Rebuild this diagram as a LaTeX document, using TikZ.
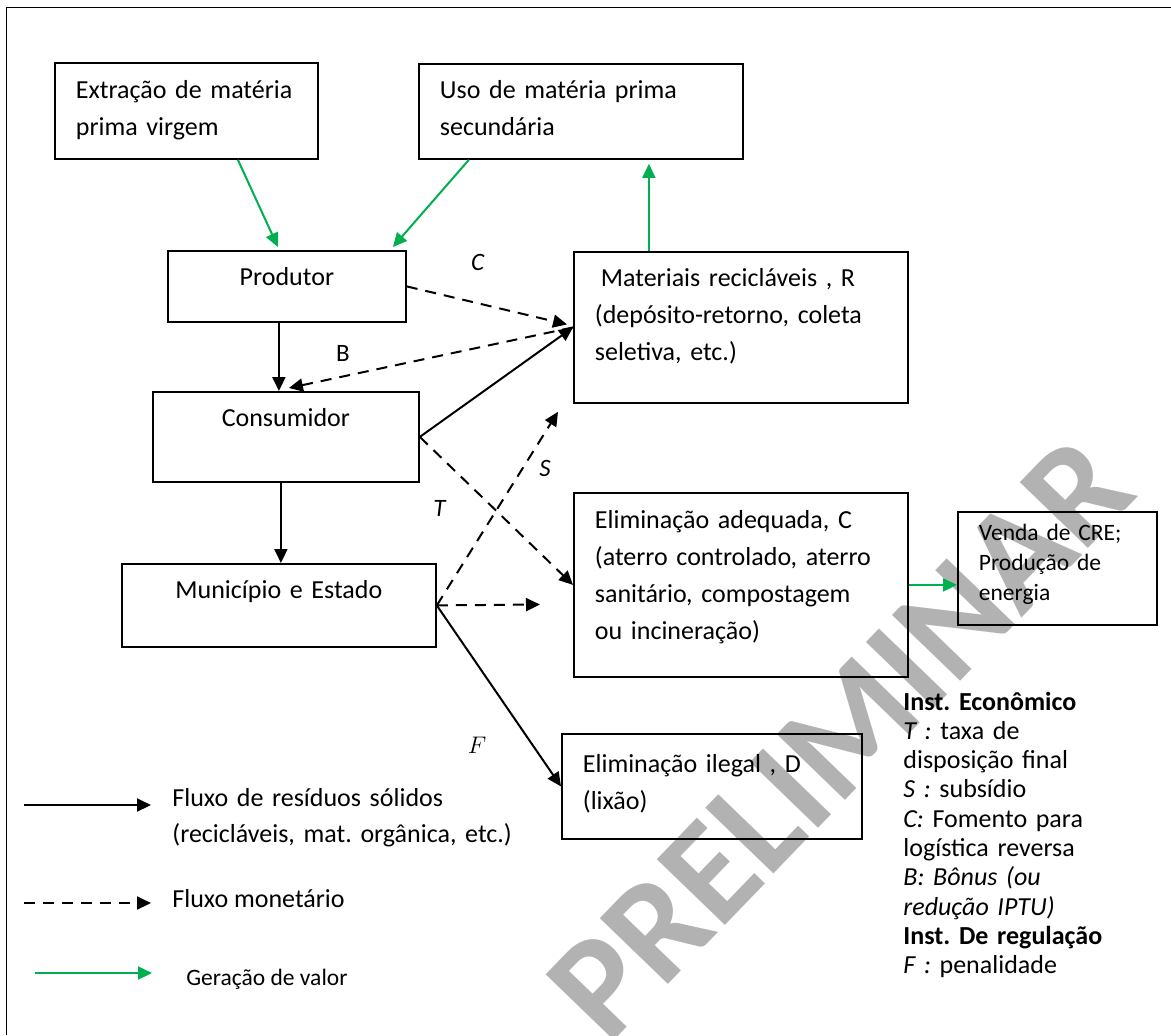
\documentclass[tikz,border=0pt]{standalone}
\usepackage{fontspec}
\setmainfont{Carlito}
\usetikzlibrary{arrows.meta}
\frenchspacing
\definecolor{verde}{RGB}{0,176,80}
\definecolor{marca}{RGB}{178,178,178}
\newcommand{\texto}{\fontsize{13}{18.5}\selectfont}
\newcommand{\miudo}{\fontsize{11.75}{15}\selectfont}
\tikzset{%
  >={Triangle[length=7pt,width=6.5pt]}, % default arrow style
  caixa/.style={draw, line width=0.9pt, anchor=north west,
    inner xsep=10.5pt, inner ysep=0pt, font=\texto},
  fluxo/.style={->, line width=1pt},
  dinheiro/.style={->, line width=1pt, dash pattern=on 5.5pt off 4pt},
  valor/.style={->, line width=1pt, verde},
  rotulo/.style={inner sep=0pt, font=\fontsize{12.5}{12.5}\selectfont}
}

\begin{document}
\begin{tikzpicture}[x=0.5pt, y=-0.5pt]
  \useasboundingbox (0,0) rectangle (1171,1035);
  % marca d'agua
  \node[rotate=46, text=marca, font=\fontsize{73}{73}\selectfont\bfseries] (preliminar) at (840,738) {PRELIMINAR};
  % moldura
  \draw[line width=0.5pt] (6,1035) -- (6,7) -- (1171,7);
  % caixas
  \node[caixa, text width=110.5pt, align=left, text height=18pt, text depth=30pt] (extr) at (54,62) {Extração de matéria\\prima virgem};
  \node[caixa, text width=141pt, align=left, text height=17.5pt, text depth=30pt] (uso) at (418,63) {Uso de matéria prima\\secundária};
  \node[caixa, text width=98pt, align=center, text height=17.5pt, text depth=18pt] (prod) at (167,250) {Produtor};
  \node[caixa, text width=112pt, align=center, text height=17.5pt, text depth=27.5pt] (cons) at (152,391) {Consumidor};
  \node[caixa, text width=136pt, align=center, text height=17.5pt, text depth=24pt] (mun) at (121,563) {Município e Estado};
  \node[caixa, text width=146pt, align=left, text height=17.5pt, text depth=58pt] (mat) at (573,251) {\hspace*{3pt}Materiais recicláveis , R\\(depósito-retorno, coleta\\seletiva, etc.)};
  \node[caixa, text width=146pt, align=left, text height=18pt, text depth=74pt] (adeq) at (573,492) {Eliminação adequada, C\\(aterro controlado, aterro\\sanitário, compostagem\\ou incineração)};
  \node[caixa, text width=78.5pt, align=left, font=\miudo, text height=14.5pt, text depth=42pt] (venda) at (957,511) {Venda de CRE;\\Produção de\\energia};
  \node[caixa, text width=129pt, align=left, text height=19.5pt, text depth=33pt] (ileg) at (561,733) {Eliminação ilegal , D\\(lixão)};
  % geracao de valor
  \draw[valor] ([shift={(51.5,0)}]extr.south) -- ([shift={(-9,-3)}]prod.north);
  \draw[valor] ([shift={(-112,0)}]uso.south) -- ([shift={(106,-3)}]prod.north);
  \draw[valor, shorten >=2pt] ([shift={(-92,0)}]mat.north) -- ([shift={(-92,0)}]mat.north |- uso.south);
  \draw[valor] (adeq.east) -- (adeq.east -| venda.west);
  % residuos
  \draw[fluxo] ([shift={(-8,0)}]prod.south) -- ([shift={(-8,0)}]prod.south |- cons.north);
  \draw[fluxo] ([shift={(-5,0)}]cons.south) -- ([shift={(-5,0)}]cons.south |- mun.north);
  \draw[fluxo] (cons.east) -- (mat.west);
  \draw[fluxo] (mun.east) -- (ileg.west);
  % fluxo monetario
  \coordinate (livre) at (540,604.5);
  \draw[dinheiro] (prod.east) -- ([shift={(-6,-3)}]mat.west);
  \draw[dinheiro] (mat.west) -- ([shift={(3,-3)}]cons.north);
  \draw[dinheiro] (cons.east) -- (adeq.west);
  \draw[dinheiro] (mun.east) -- ([shift={(-15,8)}]mat.south west);
  \draw[dinheiro] (mun.east) -- (livre);
  % rotulos
  \node[rotulo] (lC) at (478,262) {\textit{C}};
  \node[rotulo] (lB) at (343,353) {B};
  \node[rotulo] (lS) at (545,468) {\textit{S}};
  \node[rotulo] (lT) at (440,508) {\textit{T}};
  \node[rotulo, font=\fontsize{12}{12}\selectfont] (lF) at (477,745) {$F$};
  % legenda
  \coordinate (s1) at (24,805);  \coordinate (s2) at (151,805);
  \coordinate (d1) at (24,903);  \coordinate (d2) at (151,903);
  \coordinate (g1) at (35,973);  \coordinate (g2) at (152,973);
  \draw[fluxo] (s1) -- (s2);
  \draw[dinheiro] (d1) -- (d2);
  \draw[valor] (g1) -- (g2);
  \node[anchor=base west, inner sep=0pt, text width=200pt, align=left, font=\fontsize{13}{18}\selectfont] (lfluxo) at (172,806) {Fluxo de resíduos sólidos\\(recicláveis, mat. orgânica, etc.)};
  \node[anchor=base west, inner sep=0pt, font=\texto] (ldinheiro) at (172,907) {Fluxo monetário};
  \node[anchor=base west, inner sep=0pt, font=\miudo] (lvalor) at (186,985) {Geração de valor};
  % instrumentos
  \node[anchor=base west, inner sep=0pt, text width=135pt, align=left, font=\fontsize{13}{14.65}\selectfont] (inst) at (903,710) {\textbf{Inst. Econômico}\\
    \textit{T :} taxa de\\
    disposição final\\
    \textit{S :} subsídio\\
    \textit{C:} Fomento para\\
    logística reversa\\
    \textit{B: Bônus (ou}\\
    \textit{redução IPTU)}\\
    \textbf{Inst. De regulação}\\
    \textit{F :} penalidade};
\end{tikzpicture}
\end{document}
